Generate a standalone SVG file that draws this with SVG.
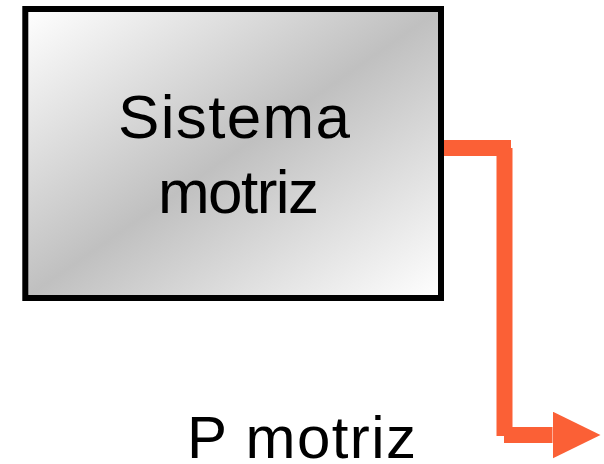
<svg xmlns="http://www.w3.org/2000/svg" width="604" height="464" viewBox="0 0 604 464">
  <style>
    .lbl { font-family: "Liberation Sans", Arial, sans-serif; fill: #000000; }
    .box { fill: url(#boxGrad); stroke: #000000; stroke-width: 6; }
    .flow { fill: none; stroke: #FB6036; stroke-width: 16; stroke-linecap: butt; stroke-linejoin: miter; }
  </style>
  <defs>
    <linearGradient id="boxGrad" x1="0" y1="0" x2="1" y2="1">
      <stop offset="0" stop-color="#ffffff"/>
      <stop offset="0.5" stop-color="#c0c0c0"/>
      <stop offset="1" stop-color="#ffffff"/>
    </linearGradient>
    <marker id="arrowHead" markerUnits="userSpaceOnUse" viewBox="0 0 48 47" refX="0" refY="23.5" markerWidth="48" markerHeight="47" orient="auto">
      <polygon points="0,0 48,23.5 0,47" fill="#FB6036"/>
    </marker>
  </defs>
  <rect width="604" height="464" fill="#ffffff"/>
  <g id="connectors">
    <path class="flow" d="M443,148 H511 M504.5,148 V436 M504,435 H552.5" marker-end="url(#arrowHead)"/>
  </g>
  <g id="sistema-motriz">
    <rect class="box" x="25.3" y="9" width="415.7" height="289"/>
    <text class="lbl" x="118" y="138" font-size="62" textLength="232">Sistema</text>
    <text class="lbl" x="158" y="213" font-size="62" textLength="161">motriz</text>
  </g>
  <g id="p-motriz">
    <text class="lbl" x="187" y="458" font-size="60" textLength="229">P motriz</text>
  </g>
</svg>
